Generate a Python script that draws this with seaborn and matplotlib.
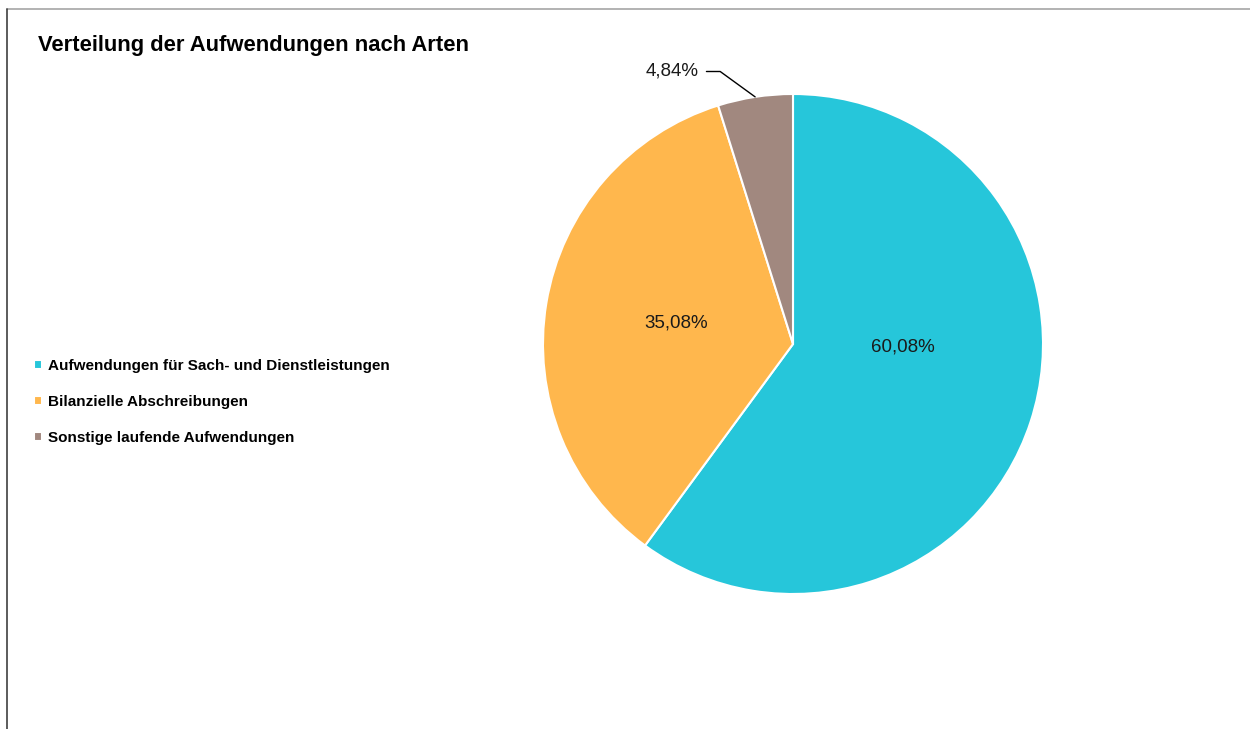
import matplotlib
matplotlib.use("Agg")
import matplotlib.pyplot as plt
import seaborn as sns
import numpy as np

# Daten
kategorien = ["Aufwendungen für Sach- und Dienstleistungen",
              "Bilanzielle Abschreibungen",
              "Sonstige laufende Aufwendungen"]
anteile = [60.08, 35.08, 4.84]
farben = ["#26C6DA", "#FFB74D", "#A1887F"]
titel = "Verteilung der Aufwendungen nach Arten"

sns.set_theme(style="white")
plt.rcParams["font.family"] = ["Liberation Sans", "DejaVu Sans"]

W, H = 1250, 729
fig = plt.figure(figsize=(W / 100, H / 100), dpi=100)

# Rahmenlinien oben und links
fig.add_artist(plt.Line2D([7 / W, 1], [1 - 9 / H, 1 - 9 / H], color="#a6a6a6", lw=1.2))
fig.add_artist(plt.Line2D([7 / W, 7 / W], [0, 1 - 9 / H], color="#404040", lw=1.2))

# Kreis: Mittelpunkt (793, 344), Radius 250 px
cx, cy, r = 793, 344, 250
ax = fig.add_axes([(cx - r) / W, (H - cy - r) / H, 2 * r / W, 2 * r / H])
wedges, texte = ax.pie(anteile, colors=farben, startangle=90, counterclock=False,
                       wedgeprops=dict(edgecolor="white", linewidth=1.5),
                       labels=[f"{v:.2f}%".replace(".", ",") for v in anteile],
                       labeldistance=0.5, textprops=dict(fontsize=13.5, color="#1a1a1a"))
ax.set_xlim(-1, 1)
ax.set_ylim(-1, 1)
ax.set_aspect("equal")
ax.axis("off")

# Beschriftungen wie im Original platzieren
texte[0].set_position((0.44, -0.014))
texte[0].set_ha("center")
texte[1].set_position((-0.468, 0.084))
texte[1].set_ha("center")
texte[2].set_visible(False)

w = wedges[2]
mitte = np.deg2rad((w.theta1 + w.theta2) / 2)
ax.annotate(f"{anteile[2]:.2f}%".replace(".", ","),
            xy=(np.cos(mitte), np.sin(mitte)), xytext=(-0.376, 1.09),
            ha="right", va="center", fontsize=13.5, color="#1a1a1a",
            arrowprops=dict(arrowstyle="-", color="black", lw=1,
                            connectionstyle="angle,angleA=0,angleB=-36,rad=0",
                            shrinkA=3, shrinkB=0))

fig.text(38 / W, 1 - 46 / H, titel, fontsize=15.8, fontweight="bold",
         ha="left", va="center", color="black")

leg = fig.legend(wedges, kategorien, loc="upper left",
                 bbox_to_anchor=(20 / W, 1 - 345 / H), frameon=False,
                 prop=dict(size=11, weight="bold"), handlelength=0.55,
                 handleheight=0.55, handletextpad=0.35, labelspacing=1.45)
for t in leg.get_texts():
    t.set_color("black")

fig.savefig("out.png", dpi=100)
